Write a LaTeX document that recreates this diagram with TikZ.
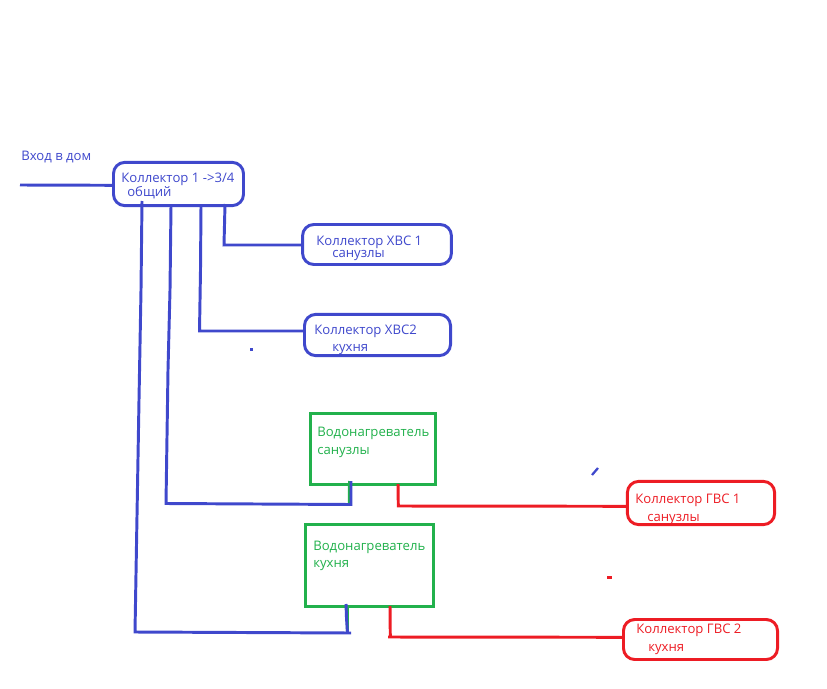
\documentclass[tikz,border=0pt]{standalone}
\usepackage{fontspec}
\setmainfont{Open Sans}
\definecolor{pipeblue}{HTML}{3F48CC}
\definecolor{pipegreen}{HTML}{22B14C}
\definecolor{pipered}{HTML}{ED1C24}
\tikzset{
  pipe/.style={line width=2.1pt,line join=miter},
  collbox/.style={draw,line width=2.1pt,rounded corners=8pt,inner sep=0pt},
  heatbox/.style={draw=pipegreen,line width=2.1pt,inner sep=0pt},
  lbl/.style={anchor=west,inner sep=0pt,font=\fontsize{9.35pt}{11pt}\selectfont},
}
\begin{document}
\begin{tikzpicture}[x=0.025cm,y=-0.025cm]
    \path[use as bounding box] (0,0) rectangle (827,689);

    % Boxes
    \node[collbox,pipeblue,minimum width=3.25cm,minimum height=1.08cm] (coll1) at (178.5,184) {};
    \node[collbox,pipeblue,minimum width=3.72cm,minimum height=1.0cm] (hvs1) at (377,244.5) {};
    \node[collbox,pipeblue,minimum width=3.65cm,minimum height=1.03cm] (hvs2) at (377.5,335) {};
    \node[heatbox,minimum width=3.13cm,minimum height=1.78cm] (heat1) at (373,449) {};
    \node[heatbox,minimum width=3.2cm,minimum height=2.05cm] (heat2) at (369.5,565.5) {};
    \node[collbox,pipered,minimum width=3.68cm,minimum height=1.08cm] (gvs1) at (701,503) {};
    \node[collbox,pipered,minimum width=3.85cm,minimum height=1.0cm] (gvs2) at (700.5,639.5) {};

    % Free ends
    \coordinate (inlet) at (20,185);
    \coordinate (inend) at (113,185.3);

    % Blue pipes
    \draw[pipe,pipeblue] (inlet) -- (inend);
    \draw[pipe,pipeblue] (225,204) -- (224.5,225) -- (224,245) -- (hvs1.west |- 0,245);
    \draw[pipe,pipeblue] (201,206) -- (200.5,270) -- (199.5,331) -- (hvs2.west |- 0,331);
    \draw[pipe,pipegreen] (349.5,481) -- (349.3,503);
    \draw[pipe,pipeblue] (171,206) -- (170,290) -- (168,370) -- (166,503.5) -- (351,504.5) -- (351,481);
    \draw[pipe,pipegreen] (347.5,605) -- (347.3,632);
    \draw[pipe,pipeblue] (142,201) -- (141,290) -- (139,400) -- (135,632) -- (351,633);
    \draw[pipe,pipeblue] (346,604) -- (346.5,618) -- (347.5,633);

    % Red pipes
    \draw[pipe,pipered] (398,484) -- (398.3,506) -- (627,506.3);
    \draw[pipe,pipered] (390,606) -- (390.3,637);
    \draw[pipe,pipered] (388,637) -- (623,637.3);

    % Specks
    \fill[pipeblue] (250,347.5) rectangle (253,350.5);
    \draw[pipeblue,line width=1.6pt] (592,475) -- (598,468);
    \fill[pipered] (607,576) rectangle (612,578.5);

    % Labels
    \node[lbl,pipeblue] (inlbl) at (21,157.5) {Вход в дом};
    \node[lbl,pipeblue] (coll1a) at (121,179.5) {Коллектор 1 ->3/4};
    \node[lbl,pipeblue] (coll1b) at (127,192.5) {общий};
    \node[lbl,pipeblue] (hvs1a) at (316,242) {Коллектор ХВС 1};
    \node[lbl,pipeblue] (hvs1b) at (332,255.5) {санузлы};
    \node[lbl,pipeblue] (hvs2a) at (314,331) {Коллектор ХВС2};
    \node[lbl,pipeblue] (hvs2b) at (332,349.5) {кухня};
    \node[lbl,pipegreen] (heat1a) at (317,433) {Водонагреватель};
    \node[lbl,pipegreen] (heat1b) at (317,452.5) {санузлы};
    \node[lbl,pipegreen] (heat2a) at (313,547) {Водонагреватель};
    \node[lbl,pipegreen] (heat2b) at (313,566) {кухня};
    \node[lbl,pipered] (gvs1a) at (635,500) {Коллектор ГВС 1};
    \node[lbl,pipered] (gvs1b) at (647,519.5) {санузлы};
    \node[lbl,pipered] (gvs2a) at (636,630) {Коллектор ГВС 2};
    \node[lbl,pipered] (gvs2b) at (648,649.5) {кухня};
  \end{tikzpicture}
\end{document}
